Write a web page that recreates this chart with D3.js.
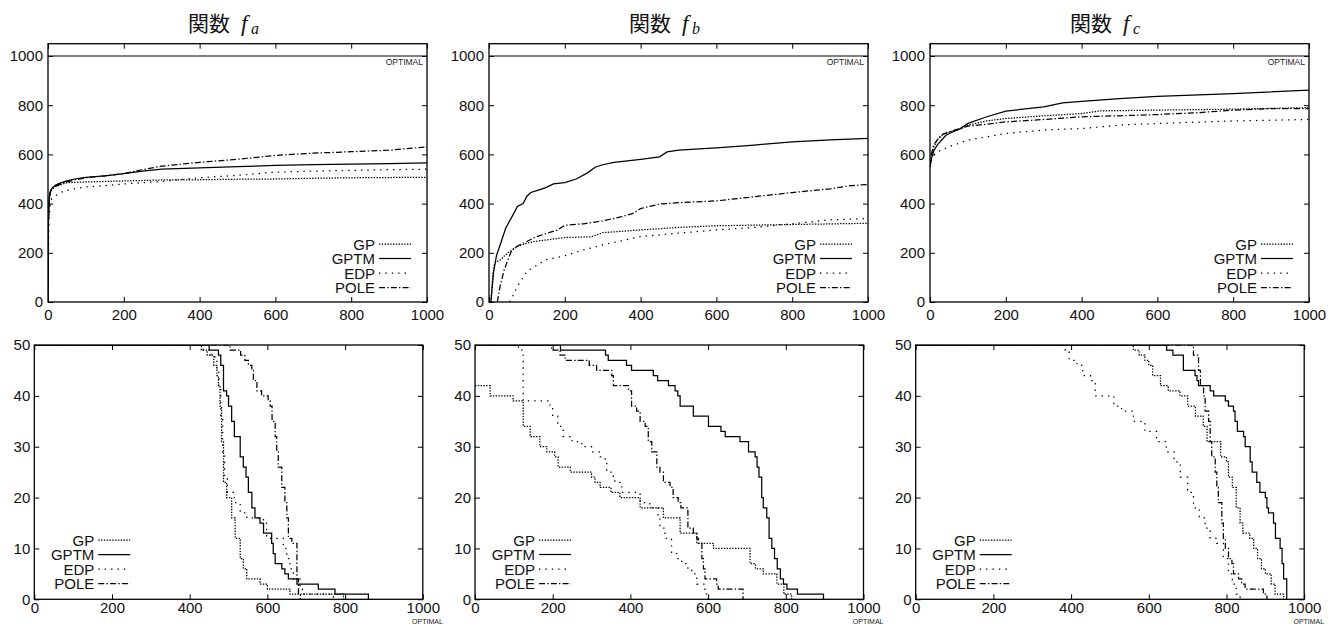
<!DOCTYPE html>
<html><head><meta charset="utf-8">
<script src="https://cdn.jsdelivr.net/npm/d3@7"></script>
<style>body{margin:0;background:#fff}svg{display:block}</style>
</head><body>
<svg id="c" width="1328" height="624"></svg>
<script>
// ---------- data ----------
const seriesNames = ["GP", "GPTM", "EDP", "POLE"];
const titles = ["a", "b", "c"];
const topXTicks = [0, 200, 400, 600, 800, 1000];
const topYTicks = [0, 200, 400, 600, 800, 1000];
const botXTicks = [0, 200, 400, 600, 800, 1000];
const botYTicks = [0, 10, 20, 30, 40, 50];
const optimalValue = 1000;

// top row: best value vs generation
const faGP   = [[0,0],[1,300],[3,400],[5,440],[10,460],[20,470],[50,485],[100,488],[150,490],[200,492],[300,496],[400,497],[500,499],[600,500],[700,503],[800,505],[900,506],[1000,507]];
const faGPTM = [[0,0],[1,330],[3,420],[6,450],[10,462],[20,475],[30,482],[50,492],[70,500],[100,507],[150,513],[200,522],[250,532],[300,540],[400,545],[500,550],[600,555],[700,558],[800,560],[900,563],[1000,566]];
const faEDP  = [[0,0],[2,300],[5,390],[10,420],[20,432],[40,450],[70,460],[100,468],[150,473],[200,480],[300,490],[400,505],[500,515],[600,528],[700,532],[800,535],[900,538],[1000,540]];
const faPOLE = [[0,0],[1,320],[3,410],[6,445],[10,458],[20,470],[30,478],[50,488],[70,496],[100,505],[150,513],[200,522],[250,538],[300,552],[400,568],[500,580],[600,596],[700,605],[800,611],[900,617],[1000,631]];

const fbGP   = [[5,0],[10,110],[15,158],[30,172],[50,200],[75,226],[100,239],[120,246],[200,262],[270,265],[300,282],[400,293],[500,303],[600,310],[800,315],[1000,320]];
const fbGPTM = [[5,0],[12,120],[20,190],[30,235],[44,300],[60,345],[75,388],[90,400],[100,430],[110,445],[130,455],[150,465],[170,480],[200,485],[230,500],[260,525],[280,548],[300,558],[330,568],[400,580],[450,590],[470,610],[500,617],[600,627],[700,638],[800,651],[900,659],[1000,665]];
const fbEDP  = [[55,0],[75,64],[100,124],[150,172],[200,188],[250,212],[300,232],[400,266],[500,280],[600,293],[700,303],[800,318],[900,334],[1000,340]];
const fbPOLE = [[22,0],[30,70],[40,130],[50,172],[60,210],[75,228],[100,246],[120,262],[150,278],[180,292],[200,312],[250,318],[300,330],[350,347],[380,360],[400,380],[450,398],[500,404],[600,411],[700,428],[800,445],[900,460],[950,472],[1000,478]];

const fcGP   = [[0,550],[5,600],[10,630],[20,660],[40,688],[75,699],[100,719],[150,736],[200,746],[300,757],[400,766],[450,777],[600,780],[800,784],[1000,790]];
const fcGPTM = [[0,550],[5,590],[10,615],[20,640],[42,678],[55,688],[80,705],[100,726],[150,753],[200,776],[300,793],[350,809],[400,816],[500,827],[600,836],[800,847],[1000,861]];
const fcEDP  = [[0,550],[5,590],[20,611],[50,631],[100,658],[200,685],[300,699],[400,705],[500,719],[600,726],[800,736],[1000,742]];
const fcPOLE = [[0,550],[5,610],[10,640],[30,680],[60,696],[100,715],[150,723],[200,732],[300,742],[400,753],[500,757],[600,762],[700,769],[800,780],[900,786],[1000,786]];

// bottom row: number of runs (step curves)
const raGP   = [[0,50],[430,49],[445,48],[462,46],[470,44],[474,42],[478,38],[482,31],[487,23],[495,20],[508,16],[517,12],[530,8],[538,6],[547,4],[581,3],[600,2],[658,1],[796,0]];
const raGPTM = [[0,50],[450,49],[474,48],[480,46],[487,41],[495,40],[500,38],[508,35],[515,32],[530,28],[538,26],[545,24],[551,21],[560,18],[568,16],[581,15],[590,13],[611,11],[615,9],[620,7],[637,6],[645,5],[654,4],[676,3],[731,2],[774,1],[860,0]];
const raEDP  = [[0,50],[435,49],[455,48],[465,47],[470,45],[475,42],[480,36],[485,29],[490,24],[497,21],[515,19],[530,17],[547,16],[590,15],[598,12],[641,10],[650,8],[658,6],[667,4],[684,2],[690,1],[770,0]];
const raPOLE = [[0,50],[504,49],[531,48],[542,47],[551,46],[560,45],[564,43],[573,41],[585,40],[602,39],[607,38],[612,35],[620,32],[624,29],[628,26],[637,22],[645,19],[650,16],[654,12],[663,11],[676,4],[680,1],[685,0]];

const rbGP   = [[0,42],[39,40],[98,39],[124,34],[142,32],[167,30],[185,29],[205,28],[214,26],[245,25],[300,24],[309,23],[322,22],[350,21],[373,20],[425,18],[485,16],[528,13],[571,11],[614,10],[708,7],[722,6],[742,5],[777,3],[795,1],[815,0]];
const rbGPTM = [[0,50],[220,49],[336,48],[343,47],[390,46],[403,45],[459,44],[470,43],[498,42],[515,41],[522,40],[528,38],[562,36],[601,34],[633,33],[644,32],[682,31],[704,29],[721,28],[726,26],[731,24],[738,20],[742,18],[751,16],[757,12],[764,10],[771,8],[778,6],[786,4],[794,3],[803,2],[830,1],[897,0]];
const rbEDP  = [[0,50],[112,49],[124,39],[193,38],[200,36],[213,34],[227,32],[250,31],[275,30],[300,29],[322,28],[335,27],[339,25],[356,24],[360,23],[378,21],[425,19],[450,18],[471,16],[476,14],[489,12],[506,9],[519,8],[532,7],[548,6],[558,5],[571,3],[592,1],[600,0]];
const rbPOLE = [[0,50],[197,49],[219,48],[232,47],[294,46],[313,45],[352,44],[356,42],[395,41],[403,38],[416,37],[425,35],[438,34],[446,31],[455,29],[468,26],[476,25],[485,23],[502,22],[510,20],[523,19],[530,18],[548,14],[562,13],[571,12],[575,11],[584,8],[588,6],[592,4],[622,3],[626,2],[690,0]];

const rcGP   = [[0,50],[560,49],[575,48],[590,47],[600,46],[610,44],[630,42],[650,41],[680,40],[700,38],[720,36],[740,34],[750,31],[770,31],[785,28],[800,27],[805,24],[815,22],[825,18],[835,15],[842,13],[860,12],[870,10],[880,8],[890,6],[900,5],[915,3],[925,1],[947,0]];
const rcGPTM = [[0,50],[646,49],[662,48],[689,45],[719,44],[724,43],[728,42],[758,41],[767,40],[797,39],[805,38],[818,37],[822,35],[828,33],[844,32],[848,30],[861,27],[866,25],[878,23],[886,21],[900,20],[904,18],[908,17],[921,15],[926,12],[938,10],[943,7],[947,4],[955,0]];
const rcEDP  = [[0,50],[385,49],[395,47],[415,46],[430,44],[450,43],[462,40],[510,38],[530,37],[560,35],[590,33],[620,31],[645,29],[665,27],[681,24],[700,21],[715,18],[730,16],[745,14],[758,12],[775,11],[792,8],[805,5],[815,3],[825,1],[835,0]];
const rcPOLE = [[0,50],[715,48],[728,45],[733,42],[741,40],[745,37],[754,35],[758,31],[762,28],[771,25],[775,22],[779,19],[788,15],[792,12],[797,10],[805,8],[814,7],[818,5],[831,4],[839,3],[848,2],[895,1],[904,0]];

// ---------- styles ----------
const dashes = {GP: "1.4,1.4", GPTM: null, EDP: "1.4,5", POLE: "6,2.2,1.4,2.2"};
const FONT = "'Liberation Sans', Arial, Helvetica, sans-serif";

const svg = d3.select("#c");

function panel(p) {
  const x = d3.scaleLinear().domain([0, 1000]).range([p.left, p.right]);
  const y = d3.scaleLinear().domain(p.yDomain).range([p.bottom, p.bottom - (p.yDomain[1]) * p.unit]);
  const top = y(p.yDomain[1]);
  const g = svg.append("g");
  const cid = "clip" + p.id;
  svg.append("clipPath").attr("id", cid).append("rect")
     .attr("x", p.left).attr("y", top).attr("width", p.right - p.left).attr("height", p.bottom - top);

  const styleAxis = (sel, fs) => {
    sel.select(".domain").remove();
    sel.selectAll("line").attr("stroke", "#000").attr("stroke-width", 1);
    sel.selectAll("text").attr("font-family", FONT).attr("font-size", fs).attr("fill", "#111");
  };
  g.append("g").attr("transform", `translate(0,${p.bottom})`)
    .call(d3.axisBottom(x).tickValues(p.xTicks).tickSize(-5).tickPadding(p.xPad).tickFormat(d3.format("d")))
    .call(s => styleAxis(s, 15));
  g.append("g").attr("transform", `translate(0,${top})`)
    .call(d3.axisTop(x).tickValues(p.xTicks).tickSize(-5).tickFormat(""))
    .call(s => styleAxis(s, 15));
  g.append("g").attr("transform", `translate(${p.left},0)`)
    .call(d3.axisLeft(y).tickValues(p.yTicks).tickSize(-5).tickPadding(p.yPad).tickFormat(d3.format("d")))
    .call(s => styleAxis(s, 15));
  g.append("g").attr("transform", `translate(${p.right},0)`)
    .call(d3.axisRight(y).tickValues(p.yTicks).tickSize(-5).tickFormat(""))
    .call(s => styleAxis(s, 15));

  const lg = g.append("g").attr("clip-path", `url(#${cid})`);
  if (p.optimal) {
    lg.append("line").attr("x1", p.left).attr("x2", p.right)
      .attr("y1", y(optimalValue)).attr("y2", y(optimalValue))
      .attr("stroke", "#000").attr("stroke-width", 1.2);
    g.append("text").attr("x", p.right - 4).attr("y", y(optimalValue) + 9)
      .attr("text-anchor", "end").attr("font-family", FONT).attr("font-size", 8.5).attr("fill", "#222")
      .text("OPTIMAL");
  }
  const line = d3.line().x(d => x(d[0])).y(d => y(d[1])).curve(p.step ? d3.curveStepAfter : d3.curveLinear);
  seriesNames.forEach((n, i) => {
    lg.append("path").datum(p.data[i]).attr("d", line)
      .attr("fill", "none").attr("stroke", "#000").attr("stroke-width", 1.25)
      .attr("stroke-dasharray", dashes[n]);
  });

  g.append("rect").attr("x", p.left).attr("y", top).attr("width", p.right - p.left).attr("height", p.bottom - top)
    .attr("fill", "none").attr("stroke", "#000").attr("stroke-width", 1.3);

  // legend
  seriesNames.forEach((n, i) => {
    const ly = p.legY + i * 14.5;
    g.append("text").attr("x", p.left + p.legTextX).attr("y", ly + 5.5).attr("text-anchor", "end")
      .attr("font-family", FONT).attr("font-size", 15).attr("fill", "#111").text(n);
    g.append("line").attr("x1", p.left + p.legTextX + 4).attr("x2", p.left + p.legTextX + 36)
      .attr("y1", ly).attr("y2", ly).attr("stroke", "#000").attr("stroke-width", 1.25)
      .attr("stroke-dasharray", dashes[n]);
  });

  if (p.title) {
    const t = svg.append("text").attr("y", 31).attr("fill", "#111");
    t.append("tspan").attr("x", p.left + 140).attr("font-family", "'Noto Sans CJK JP', sans-serif")
      .attr("font-size", 21).text("関数");
    t.append("tspan").attr("x", p.left + 193).attr("font-family", "'Liberation Serif', 'DejaVu Serif', serif")
      .attr("font-style", "italic").attr("font-size", 23).text("f");
    t.append("tspan").attr("x", p.left + 203).attr("dy", 3).attr("font-family", "'Liberation Serif', 'DejaVu Serif', serif")
      .attr("font-style", "italic").attr("font-size", 16).text(p.title);
  }
  if (p.botOptimal) {
    g.append("text").attr("x", p.right + 20).attr("y", 623.5).attr("text-anchor", "end")
      .attr("font-family", FONT).attr("font-size", 7).attr("fill", "#222").text("OPTIMAL");
  }
}

const topLefts = [48, 489, 930];
const topData = [[faGP, faGPTM, faEDP, faPOLE], [fbGP, fbGPTM, fbEDP, fbPOLE], [fcGP, fcGPTM, fcEDP, fcPOLE]];
topLefts.forEach((L, i) => panel({
  id: "t" + i, left: L, right: L + 379, bottom: 302, unit: 0.246, yDomain: [0, 1050],
  xTicks: topXTicks, yTicks: topYTicks, xPad: 7, yPad: 5, data: topData[i], step: false,
  optimal: true, legY: 244, legTextX: 327, title: titles[i]
}));
const botLefts = [34.3, 475, 915.7];
const botData = [[raGP, raGPTM, raEDP, raPOLE], [rbGP, rbGPTM, rbEDP, rbPOLE], [rcGP, rcGPTM, rcEDP, rcPOLE]];
botLefts.forEach((L, i) => panel({
  id: "b" + i, left: L, right: L + 388.5, bottom: 599.3, unit: 5.086, yDomain: [0, 50],
  xTicks: botXTicks, yTicks: botYTicks, xPad: 3, yPad: 4, data: botData[i], step: true,
  optimal: false, legY: 540, legTextX: 60, title: null, botOptimal: true
}));
</script>
</body></html>
